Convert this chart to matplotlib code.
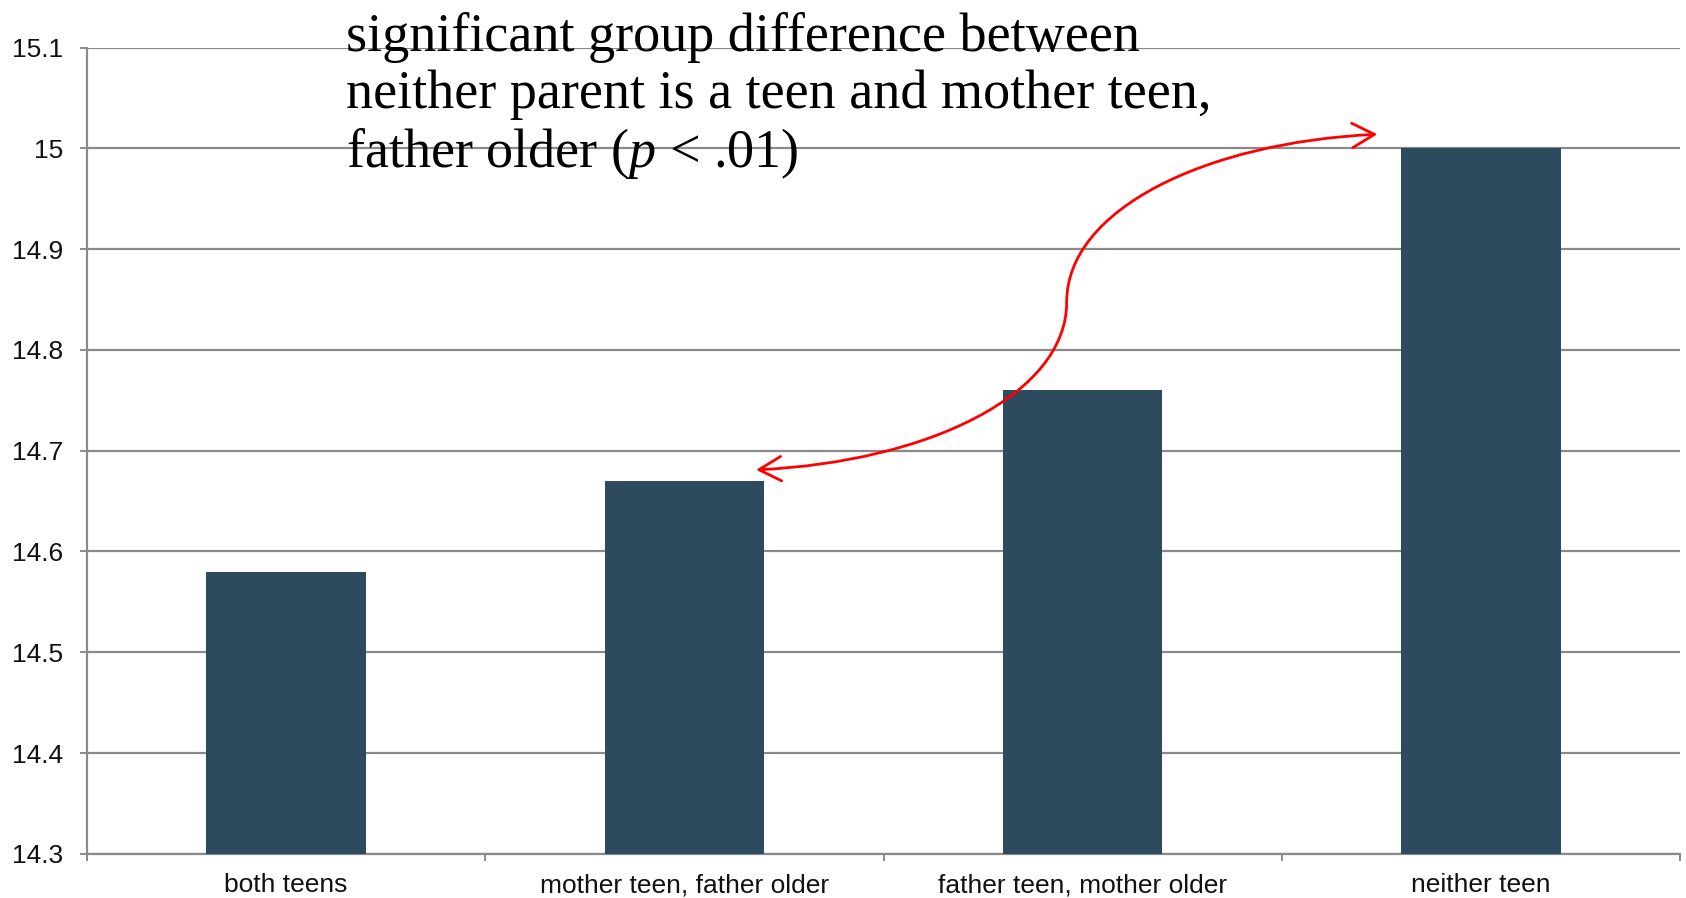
import matplotlib
matplotlib.use("Agg")
import matplotlib.pyplot as plt
from matplotlib.path import Path
from matplotlib.patches import FancyArrowPatch
from matplotlib.ticker import FixedLocator, NullFormatter

plt.rcParams["mathtext.fontset"] = "custom"
plt.rcParams["mathtext.it"] = "Liberation Serif:italic"
plt.rcParams["mathtext.rm"] = "Liberation Serif"

categories = ["both teens", "mother teen, father older", "father teen, mother older", "neither teen"]
values = [14.58, 14.67, 14.76, 15.0]
yticks = [14.3, 14.4, 14.5, 14.6, 14.7, 14.8, 14.9, 15.0, 15.1]
ytick_labels = ["14.3", "14.4", "14.5", "14.6", "14.7", "14.8", "14.9", "15", "15.1"]
note = ("significant group difference between\n"
        "neither parent is a teen and mother teen,\n"
        "father older ($p$ < .01)")

bar_color = "#2E4A5E"
grid_color = "#8A8A8A"
bar_width = 0.4

fig = plt.figure(figsize=(16.86, 8.98), dpi=100)
ax = fig.add_axes([87 / 1686, 1 - 853.8 / 898, (1680 - 87) / 1686, (853.8 - 47.6) / 898])

x = list(range(len(categories)))
ax.bar(x, [v - yticks[0] for v in values], bottom=yticks[0], width=bar_width,
       color=bar_color, zorder=3)

ax.set_xlim(-0.5, len(categories) - 0.5)
ax.set_ylim(yticks[0], yticks[-1])
ax.set_yticks(yticks)
ax.set_yticklabels(ytick_labels)
ax.yaxis.grid(True, color=grid_color, linewidth=1.6, zorder=0)
ax.set_axisbelow(True)

ax.xaxis.set_major_locator(FixedLocator([i - 0.5 for i in range(len(categories) + 1)]))
ax.xaxis.set_major_formatter(NullFormatter())
ax.xaxis.set_minor_locator(FixedLocator(x))
ax.set_xticklabels(categories, minor=True)

for s in ["top", "right"]:
    ax.spines[s].set_visible(False)
for s in ["left", "bottom"]:
    ax.spines[s].set_color(grid_color)
    ax.spines[s].set_linewidth(1.6)

ax.tick_params(axis="y", which="major", direction="out", length=5, width=1.4,
               color=grid_color, pad=12, labelsize=19)
ax.tick_params(axis="x", which="major", direction="out", length=5, width=1.4,
               color=grid_color)
ax.tick_params(axis="x", which="minor", length=0, pad=14, labelsize=19)
for t in ax.get_yticklabels() + ax.get_xticklabels(minor=True):
    t.set_fontfamily(["Liberation Sans", "DejaVu Sans"])
    t.set_color("#111111")

# curved double-headed arrow linking "neither teen" and "mother teen, father older"
top_end = (3 - bar_width / 2 - 0.06, values[3] + 0.014)
bot_end = (1 + bar_width / 2 - 0.02, values[1] + 0.011)
mid = ((top_end[0] + bot_end[0]) / 2, (top_end[1] + bot_end[1]) / 2)
dx, dy, vy = 0.43, 0.008, 0.092
verts = [bot_end,
         (bot_end[0] + dx, bot_end[1] + dy),
         (mid[0], mid[1] - vy),
         mid,
         (mid[0], mid[1] + vy),
         (top_end[0] - dx, top_end[1] - dy),
         top_end]
codes = [Path.MOVETO] + [Path.CURVE4] * 6
arrow = FancyArrowPatch(path=Path(verts, codes), arrowstyle="<->,head_length=0.4,head_width=0.22",
                        mutation_scale=40, color="#FF0000", linewidth=2.0, zorder=5)
ax.add_patch(arrow)

fig.text(346 / 1686, 1 - 12 / 898, note, ha="left", va="top",
         fontsize=39, family=["Liberation Serif", "DejaVu Serif"],
         linespacing=1.16, color="black", zorder=10)

fig.savefig("out.png", dpi=100)
